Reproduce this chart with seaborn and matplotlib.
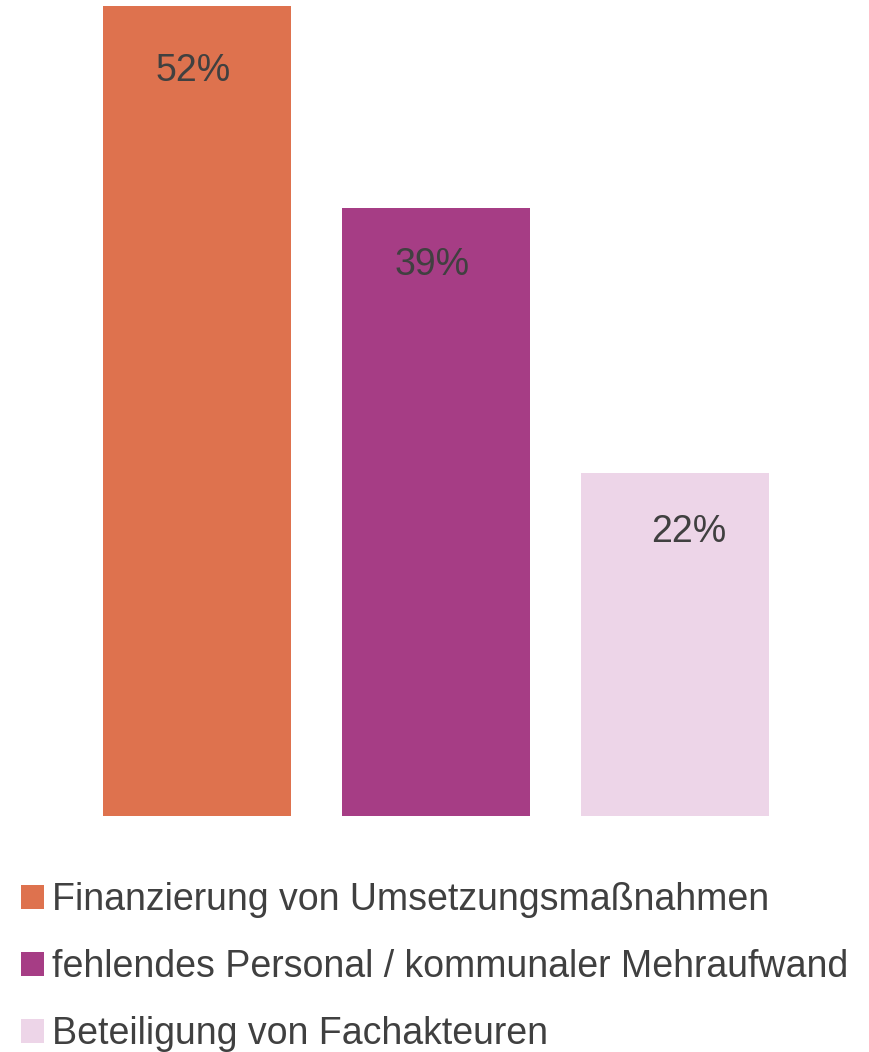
import numpy as np
import pandas as pd
import seaborn as sns
import matplotlib.pyplot as plt

## Data
categories = ['Finanzierung von Umsetzungsmaßnahmen',
              'fehlendes Personal / kommunaler Mehraufwand',
              'Beteiligung von Fachakteuren']
values = [52, 39, 22]
value_labels = ['52%', '39%', '22%']
colors = ['#DE724E', '#A63D85', '#EDD5E8']

df = pd.DataFrame({'cat': categories, 'val': values})

sns.set_style('white')
plt.rcParams['font.family'] = ['Liberation Sans', 'DejaVu Sans']
text_col = '#404040'

fig = plt.figure(figsize=(8.69, 10.52), dpi=100)
ax = fig.add_axes([0, 1 - 816 / 1052, 1, (816 - 6) / 1052])

sns.barplot(data=df, x='cat', y='val', hue='cat', palette=colors,
            width=0.787, dodge=False, legend=False, ax=ax,
            linewidth=0, saturation=1)

# px -> data scaling so bars land like the reference
ax.set_xlim(-197 / 239, (869 - 197) / 239)
ax.set_ylim(0, 52)
ax.axis('off')

# percent labels inside the bars, a bit under the top
x_off = [-4, -4, 14]
y_off = [-47, -41, -42]
for i, (v, lab) in enumerate(zip(values, value_labels)):
    ax.annotate(lab, xy=(i, v), xytext=(x_off[i] * 0.72, y_off[i]),
                textcoords='offset points', ha='center', va='center',
                fontsize=27, color=text_col)

handles = list(ax.patches)[:len(categories)]
fig.legend(handles, categories, loc='upper left',
           bbox_to_anchor=(21 / 869, 1 - 882 / 1052),
           frameon=False, fontsize=27, labelcolor=text_col,
           handlelength=0.6, handleheight=0.6, handletextpad=0.22,
           labelspacing=0.83, borderpad=0, borderaxespad=0)

fig.savefig('out.png', dpi=100)
